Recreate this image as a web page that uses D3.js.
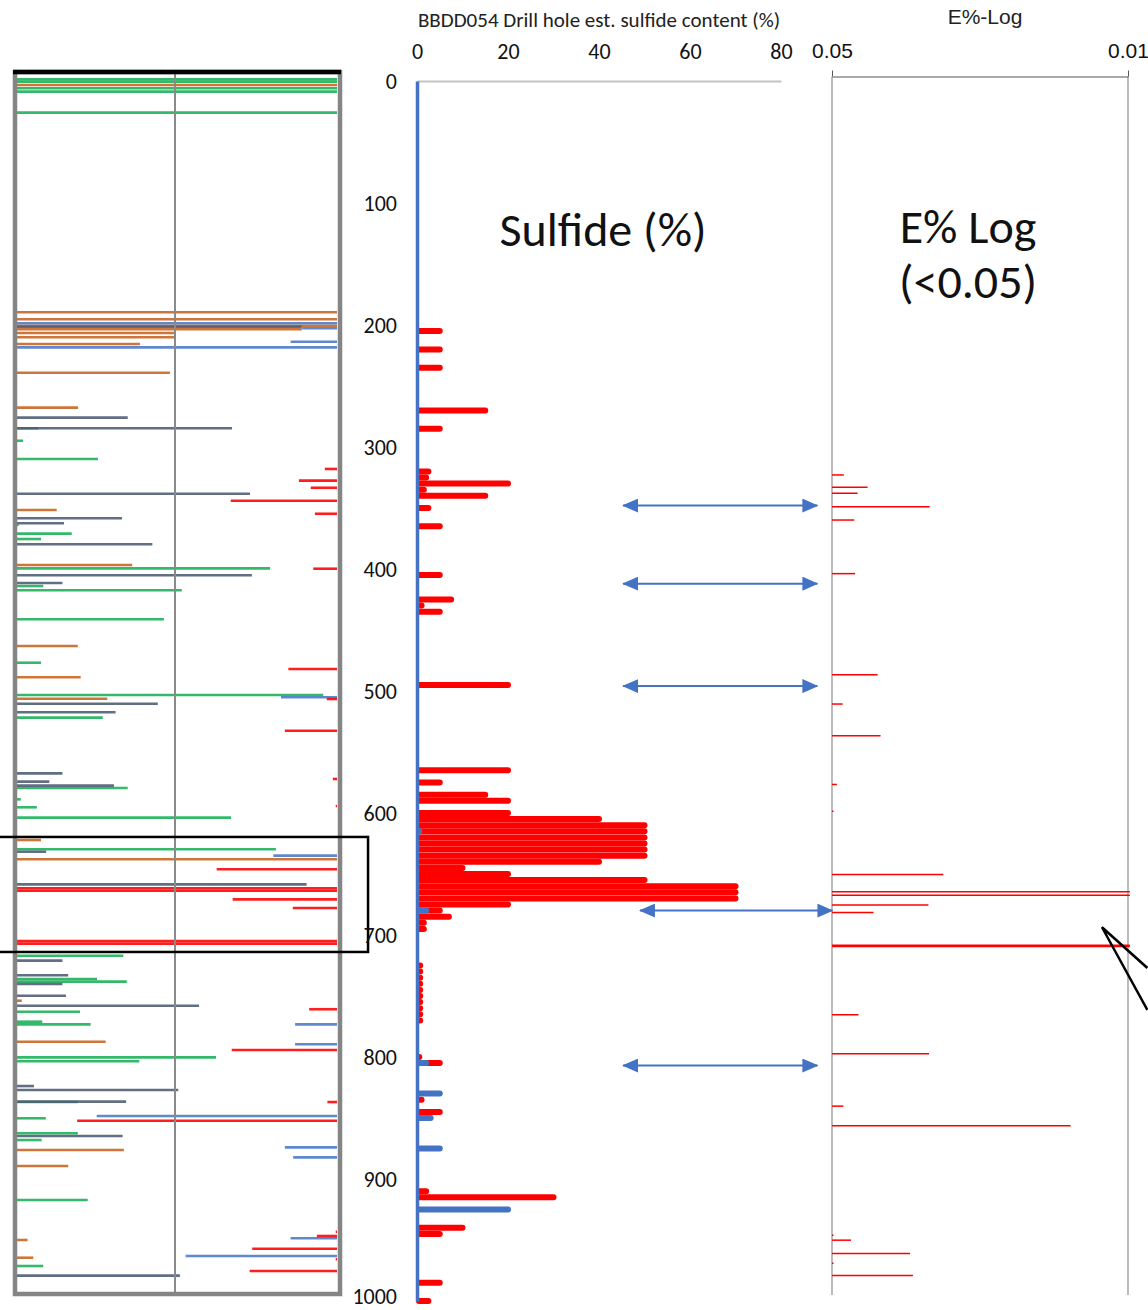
<!DOCTYPE html>
<html>
<head>
<meta charset="utf-8">
<script src="https://cdn.jsdelivr.net/npm/d3@7"></script>
<style>
  body { margin: 0; background: #fff; }
  svg { display: block; }
</style>
</head>
<body>
<svg id="chart"></svg>
<script>
// ---- sulfide content (%) by depth, middle panel ----
const sulfideDepth = [205,220,235,270,285,320,325,330,335,340,350,365,405,425,430,435,495,565,575,585,590,600,
  605,610,615,620,625,630,635,640,645,650,655,660,665,670,675,680,685,690,695,
  725,730,735,740,745,750,755,760,765,770,800,805,835,845,910,915,940,945,985,1000];
const sulfideValue = [5,5,5,15,5,2.5,2,20,1.5,15,2.5,5,5,7.5,1,5,20,20,5,15,20,20,
  40,50,50,50,50,50,50,40,10,20,50,70,70,70,20,5,7,1.5,1.5,
  0.7,0.7,0.7,0.7,0.7,0.7,0.7,0.7,0.7,0.7,0.5,5,1,5,2,30,10,5,5,2.5];
const blueDepth = [615,680,805,830,850,875,925];
const blueValue = [0.5,2,2,5,3,5,20];
const sulfideTicks = [0,20,40,60,80];
const depthTicks = [0,100,200,300,400,500,600,700,800,900,1000];

// ---- E% log (right panel) ----
const eDepth = [327,337,342,353,364,408,491,515,541,581,603,655,669,672,680,686,713,714,770,802,845,861,951,955,966,974,984];
const eValue = [0.0469,0.0412,0.0435,0.0294,0.0443,0.0441,0.039,0.0472,0.0384,0.0487,0.0496,0.0273,0.0099,0.0099,
  0.0296,0.0399,0.0099,0.0099,0.0433,0.0295,0.047,0.01366,0.0496,0.0451,0.0327,0.0496,0.0322];
const eTicks = [0.05, 0.01];

// ---- strip log (left panel): [depth, extent %] ----
const logGreen = [[6,100],[8,100],[13.3,100],[16.1,100],[33.3,100],[291.8,6.6],[302,1.9],[317,25.3],[371,0.5],
  [378.1,17.1],[382.5,7.5],[406.5,79.1],[421,8.2],[424.5,51.5],[448.2,45.9],[483.8,7.5],[510.2,95.7],[528.8,26.8],
  [586.4,34.6],[595.7,1.2],[602.2,6.2],[610.7,66.9],[636.6,80.9],[723.8,33.2],[742.8,25],[745,34.3],[769.6,19.7],
  [777.8,7.9],[780,23],[807,62.2],[810.2,38.2],[843.6,19],[856.9,9],[869.2,19],[874.7,7.7],[923.8,22.1],[977.9,8.2]];
const logOrange = [[10.6,100],[196.8,100],[202.5,100],[207.8,100],[210.7,89],[213.8,49.4],[217.3,49.4],[222.8,38.4],
  [246.3,47.8],[274.9,19.1],[358.7,12.4],[403.8,36],[470.1,19],[495.7,19.9],[513.3,28.2],[629,7.5],[644.8,100],
  [760.6,1.5],[794.2,27.7],[882.9,33.4],[896,16],[956.6,3.3],[971.1,5.1]];
const logSlate = [[208.6,89],[283.1,34.6],[291.8,67.2],[345.4,72.8],[365.5,32.8],[369.6,14.7],[386.8,42.3],[412.2,73.4],
  [418.5,14.2],[517.4,44],[524.4,30.8],[574.4,14.2],[581.2,10.1],[584.5,30.3],[638.6,9.1],[665.3,90.5],[727.8,14.2],
  [739.8,16],[746.9,14.2],[756.5,15.3],[764.7,56.9],[830.5,5.3],[833.7,50.4],[843.3,34.1],[871.4,33],[985.8,50.9]];
const logBlue = [[205.8,100],[209.9,10.9],[220.9,14.5],[225.5,100],[512.1,17.5],[641.8,19.9],[780,13.1],[796.3,13.1],
  [855,75.1],[880.7,16.3],[888.9,13.7],[955.2,14.5],[969.7,47.3]];
const logRed = [[325.1,3.8],[334.7,11.9],[340.5,8.2],[351.1,33.2],[361.8,6.9],[406.8,7.4],[488.9,15.2],[513.5,3.2],
  [539.5,16.3],[579,1.3],[601.1,0.4],[653,37.6],[668.5,100],[670.5,100],[677.6,32.6],[684.7,13.8],[711.7,100],
  [713.9,100],[767.6,8.7],[801,32.9],[843.6,3],[858.9,81.2],[949.8,0.4],[953.3,6.3],[963.7,26.5],[972.4,0.4],[982,27.3]];

// ---- annotations ----
const arrowLinks = [ {depth:348, from:45.3, to:88}, {depth:412, from:45.3, to:88}, {depth:496, from:45.3, to:88},
  {depth:680, from:49, to:91.3}, {depth:807, from:45.3, to:88} ];
const highlightDepth = [626.5, 720.7];
const pointer = [[0.009, 731.6], [0.01152, 698.2], [0.009, 766]];

const W = 1148, H = 1310;
const svg = d3.select('#chart').attr('width', W).attr('height', H);
const calibri = 'Carlito, Lato, sans-serif';
const arial = 'Liberation Sans, Arial, sans-serif';

// ================= left strip log =================
const xL = d3.scaleLinear([0, 100], [17, 337]);
const yL = d3.scaleLinear([0, 1000], [72, 1293]);

const layers = [
  {rows: logGreen,  color: '#19b056', side: 'left'},
  {rows: logOrange, color: '#c8641f', side: 'left'},
  {rows: logSlate,  color: '#4d5b72', side: 'left'},
  {rows: logBlue,   color: '#4a78c8', side: 'right'},
  {rows: logRed,    color: '#ff0000', side: 'right'}
];

const stripG = svg.append('g');
layers.forEach(layer => {
  stripG.selectAll(null)
    .data(layer.rows)
    .enter()
    .append('line')
    .attr('x1', d => layer.side === 'left' ? xL(0) : xL(100 - d[1]))
    .attr('x2', d => layer.side === 'left' ? xL(d[1]) : xL(100))
    .attr('y1', d => yL(d[0]))
    .attr('y2', d => yL(d[0]))
    .attr('stroke', layer.color)
    .attr('stroke-width', 2.6)
    .attr('opacity', 0.88);
});

// frame + middle line
stripG.append('line')
  .attr('x1', 175).attr('x2', 175)
  .attr('y1', yL(0)).attr('y2', yL(1000))
  .attr('stroke', '#8a8a8a').attr('stroke-width', 2);
stripG.append('rect')
  .attr('x', 15).attr('y', yL(0))
  .attr('width', 325).attr('height', yL(1000) - yL(0) + 1)
  .attr('fill', 'none').attr('stroke', '#858585').attr('stroke-width', 4.5);
stripG.append('line')
  .attr('x1', 13).attr('x2', 341)
  .attr('y1', yL(0)).attr('y2', yL(0))
  .attr('stroke', '#000').attr('stroke-width', 4.5);

// highlight box
svg.append('rect')
  .attr('x', xL(-6)).attr('y', yL(highlightDepth[0]))
  .attr('width', xL(109.7) - xL(-6))
  .attr('height', yL(highlightDepth[1]) - yL(highlightDepth[0]))
  .attr('fill', 'none').attr('stroke', '#000').attr('stroke-width', 2.5);

// ================= sulfide chart =================
const x = d3.scaleLinear([0, 80], [417, 781]);
const y = d3.scaleLinear([0, 1000], [81, 1301]);

svg.append('text')
  .attr('x', (x(0) + x(80)) / 2).attr('y', 27)
  .attr('text-anchor', 'middle')
  .style('font-family', calibri)
  .style('font-size', '21px')
  .attr('fill', '#222')
  .text('BBDD054 Drill hole est. sulfide content (%)');

const topAxis = svg.append('g')
  .attr('transform', `translate(0, ${y(0)})`)
  .call(d3.axisTop(x).tickValues(sulfideTicks).tickSize(0).tickPadding(22).tickSizeOuter(0));
topAxis.select('.domain').attr('stroke', '#c4c4c4').attr('stroke-width', 2);
topAxis.selectAll('text')
  .style('font-family', calibri)
  .style('font-size', '22px').attr('fill', '#111');

svg.append('text')
  .attr('x', 603).attr('y', 246)
  .attr('text-anchor', 'middle')
  .style('font-family', calibri)
  .style('font-size', '48px').attr('fill', '#111')
  .text('Sulfide (%)');

const redBars = sulfideDepth.map((d, i) => ({depth: d, value: sulfideValue[i]}));
const blueBars = blueDepth.map((d, i) => ({depth: d, value: blueValue[i]}));

svg.append('g').selectAll('line')
  .data(redBars)
  .enter().append('line')
  .attr('x1', x(0) + 2).attr('x2', d => x(d.value))
  .attr('y1', d => y(d.depth)).attr('y2', d => y(d.depth))
  .attr('stroke', '#ff0000').attr('stroke-width', 6)
  .attr('stroke-linecap', 'round');

svg.append('g').selectAll('line')
  .data(blueBars)
  .enter().append('line')
  .attr('x1', x(0) + 2).attr('x2', d => x(d.value))
  .attr('y1', d => y(d.depth)).attr('y2', d => y(d.depth))
  .attr('stroke', '#4472c4').attr('stroke-width', 6)
  .attr('stroke-linecap', 'round');

const leftAxis = svg.append('g')
  .attr('transform', `translate(${x(0)}, 0)`)
  .call(d3.axisLeft(y).tickValues(depthTicks).tickFormat(d3.format('d'))
    .tickSize(0).tickPadding(20).tickSizeOuter(0));
leftAxis.select('.domain').attr('stroke', '#4472c4').attr('stroke-width', 3.5);
leftAxis.selectAll('text')
  .style('font-family', calibri)
  .style('font-size', '22px').attr('fill', '#111');
leftAxis.selectAll('.tick').filter(d => d === 1000).select('text').attr('dy', '0.1em');

// ================= E% log panel =================
const xE = d3.scaleLog([0.05, 0.01], [832, 1128]);
const yE = d3.scaleLinear([0, 1000], [76.5, 1295]);

svg.append('text')
  .attr('x', (xE(0.05) + xE(0.01)) / 2 + 5).attr('y', 24)
  .attr('text-anchor', 'middle')
  .style('font-family', arial)
  .style('font-size', '21px').attr('fill', '#222')
  .text('E%-Log');

eTicks.forEach(t => {
  svg.append('line')
    .attr('x1', xE(t)).attr('x2', xE(t))
    .attr('y1', yE(0)).attr('y2', yE(1000))
    .attr('stroke', '#ababab').attr('stroke-width', 1.6);
});

const eAxis = svg.append('g')
  .attr('transform', `translate(0, ${yE(0)})`)
  .call(d3.axisTop(xE).tickValues(eTicks).tickFormat(d3.format('.2f')).tickSize(6).tickPadding(13).tickSizeOuter(0));
eAxis.select('.domain').attr('stroke', '#555').attr('stroke-width', 1.2);
eAxis.selectAll('.tick line').attr('stroke', '#555');
eAxis.selectAll('text')
  .style('font-family', arial)
  .style('font-size', '21px').attr('fill', '#111');

const eLines = eDepth.map((d, i) => ({depth: d, value: eValue[i]}));
svg.append('g').selectAll('line')
  .data(eLines)
  .enter().append('line')
  .attr('x1', xE(0.05)).attr('x2', d => xE(d.value))
  .attr('y1', d => yE(d.depth)).attr('y2', d => yE(d.depth))
  .attr('stroke', '#ff0000').attr('stroke-width', 1.5);

const eLabel = svg.append('text')
  .attr('text-anchor', 'middle')
  .style('font-family', calibri)
  .style('font-size', '48px').attr('fill', '#111');
eLabel.append('tspan').attr('x', 968).attr('y', 243).text('E% Log');
eLabel.append('tspan').attr('x', 968).attr('y', 298).text('(<0.05)');

// ================= arrows =================
const defs = svg.append('defs');
defs.append('marker')
  .attr('id', 'head')
  .attr('viewBox', '0 0 16 14')
  .attr('refX', 15).attr('refY', 7)
  .attr('markerWidth', 16).attr('markerHeight', 14)
  .attr('markerUnits', 'userSpaceOnUse')
  .attr('orient', 'auto-start-reverse')
  .append('path')
  .attr('d', 'M0,0 L16,7 L0,14 Z')
  .attr('fill', '#4472c4');

svg.append('g').selectAll('line')
  .data(arrowLinks)
  .enter().append('line')
  .attr('x1', d => x(d.from)).attr('x2', d => x(d.to))
  .attr('y1', d => y(d.depth)).attr('y2', d => y(d.depth))
  .attr('stroke', '#4472c4').attr('stroke-width', 2)
  .attr('marker-start', 'url(#head)')
  .attr('marker-end', 'url(#head)');

// callout pointer
svg.append('path')
  .attr('d', d3.line().x(d => xE(d[0])).y(d => yE(d[1]))(pointer))
  .attr('fill', 'none').attr('stroke', '#000').attr('stroke-width', 2.5);
</script>
</body>
</html>
